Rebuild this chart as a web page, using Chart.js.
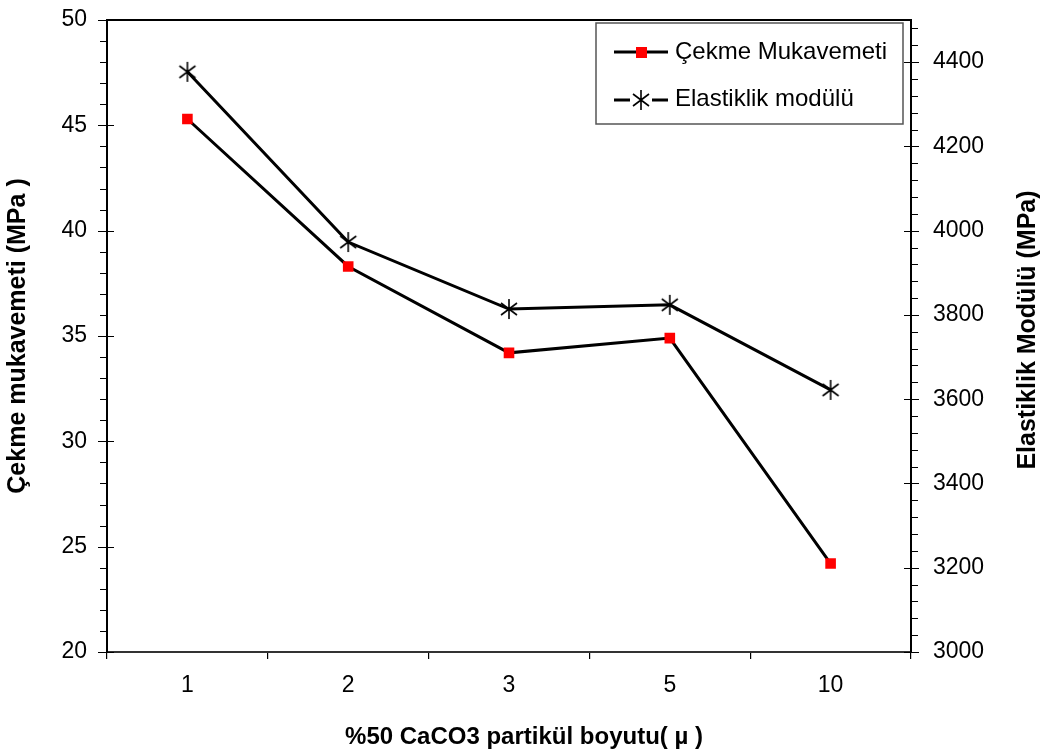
<!DOCTYPE html>
<html>
<head>
<meta charset="utf-8">
<script src="https://cdn.jsdelivr.net/npm/chart.js@4/dist/chart.umd.min.js"></script>
<style>
  body { margin: 0; background: #fff; }
  #wrap { width: 1042px; height: 749px; }
</style>
</head>
<body>
<div id="wrap"><canvas id="grafik"></canvas></div>
<script>
var boyut = ["1", "2", "3", "5", "10"];
var cekmeMukavemeti = [45.3, 38.3, 34.2, 34.9, 24.2];
var elastiklikModulu = [4377, 3973, 3814, 3824, 3622];

var fontAdi = "'Liberation Sans', Arial, Helvetica, sans-serif";

// yildiz isareti (dikey cizgi + X)
var yildiz = document.createElement('canvas');
yildiz.width = 22;
yildiz.height = 22;
var yc = yildiz.getContext('2d');
yc.strokeStyle = '#000';
yc.lineWidth = 1.6;
yc.beginPath();
yc.moveTo(11, 1); yc.lineTo(11, 21);
yc.moveTo(3, 5); yc.lineTo(19, 17);
yc.moveTo(19, 5); yc.lineTo(3, 17);
yc.stroke();

var cercevePlugin = {
  id: 'cerceve',
  afterDatasetsDraw: function (chart) {
    var ctx = chart.ctx;
    var a = chart.chartArea;
    var y1 = chart.scales.y;
    var y2 = chart.scales.y2;
    ctx.save();
    ctx.strokeStyle = '#000';
    ctx.lineWidth = 2;
    ctx.beginPath();
    ctx.moveTo(a.left, a.top);
    ctx.lineTo(a.right, a.top);
    ctx.stroke();

    // sol eksen tikleri
    ctx.lineWidth = 1.2;
    ctx.beginPath();
    for (var v = 20; v <= 50; v += 1) {
      var py = Math.round(y1.getPixelForValue(v)) + 0.5;
      if (v % 5 === 0) {
        ctx.moveTo(a.left - 9, py); ctx.lineTo(a.left + 7, py);
      } else {
        ctx.moveTo(a.left - 7, py); ctx.lineTo(a.left, py);
      }
    }
    // sag eksen tikleri
    for (var w = 3000; w <= 4500; w += 40) {
      var qy = Math.round(y2.getPixelForValue(w)) + 0.5;
      if (w % 200 === 0) {
        ctx.moveTo(a.right - 7, qy); ctx.lineTo(a.right + 8, qy);
      } else {
        ctx.moveTo(a.right, qy); ctx.lineTo(a.right + 7, qy);
      }
    }
    ctx.stroke();

    // eksen basliklari
    ctx.fillStyle = '#000';
    ctx.font = 'bold 24px ' + fontAdi;
    ctx.textAlign = 'center';
    ctx.textBaseline = 'middle';
    ctx.fillText('%50 CaCO3 partikül boyutu( µ )', 524, 737);
    ctx.font = 'bold 25px ' + fontAdi;
    ctx.save();
    ctx.translate(1028, 330);
    ctx.rotate(-Math.PI / 2);
    ctx.fillText('Elastiklik Modülü (MPa)', 0, 0);
    ctx.restore();

    // lejant
    var lx = 596, ly = 23, lw = 307, lh = 101;
    ctx.fillStyle = '#fff';
    ctx.fillRect(lx, ly, lw, lh);
    ctx.strokeStyle = '#555';
    ctx.lineWidth = 1.5;
    ctx.strokeRect(lx, ly, lw, lh);

    ctx.strokeStyle = '#000';
    ctx.lineWidth = 3;
    ctx.beginPath();
    ctx.moveTo(614, 52); ctx.lineTo(668, 52);
    ctx.moveTo(614, 100); ctx.lineTo(630, 100);
    ctx.moveTo(652, 100); ctx.lineTo(668, 100);
    ctx.stroke();
    ctx.fillStyle = '#ff0000';
    ctx.fillRect(636, 47, 11, 11);
    ctx.drawImage(yildiz, 630, 89);

    ctx.fillStyle = '#000';
    ctx.font = '24px ' + fontAdi;
    ctx.textBaseline = 'middle';
    ctx.textAlign = 'left';
    ctx.fillText('Çekme Mukavemeti', 675, 52);
    ctx.fillText('Elastiklik modülü', 675, 99);
    ctx.restore();
  }
};

function sifirPadding(s) {
  s.paddingTop = 0;
  s.paddingBottom = 0;
}

var ctx = document.getElementById('grafik').getContext('2d');
var grafik = new Chart(ctx, {
  type: 'line',
  data: {
    labels: boyut,
    datasets: [{
      label: 'Çekme Mukavemeti',
      data: cekmeMukavemeti,
      yAxisID: 'y',
      borderColor: '#000',
      borderWidth: 3,
      pointStyle: 'rect',
      pointRadius: 7.5,
      pointBackgroundColor: '#ff0000',
      pointBorderWidth: 0,
      tension: 0
    }, {
      label: 'Elastiklik modülü',
      data: elastiklikModulu,
      yAxisID: 'y2',
      borderColor: '#000',
      borderWidth: 3,
      pointStyle: yildiz,
      pointRadius: 10,
      tension: 0
    }]
  },
  options: {
    responsive: true,
    maintainAspectRatio: false,
    animation: false,
    layout: { padding: { top: 20, left: 0, right: 0, bottom: 0 } },
    plugins: {
      legend: { display: false },
      tooltip: { enabled: false }
    },
    scales: {
      x: {
        offset: true,
        grid: { offset: true, drawOnChartArea: false, drawTicks: true, tickLength: 7, color: '#000', lineWidth: 1.2 },
        border: { display: true, color: '#333', width: 2 },
        ticks: { color: '#000', padding: 13, font: { family: fontAdi, size: 23 } },
        afterFit: function (s) { s.height = 97; s.paddingLeft = 0; s.paddingRight = 0; }
      },
      y: {
        position: 'left',
        min: 20,
        max: 50,
        ticks: { stepSize: 5, color: '#000', padding: 20, font: { family: fontAdi, size: 23 } },
        grid: { drawOnChartArea: false, drawTicks: false },
        border: { display: true, color: '#000', width: 2 },
        title: {
          display: true,
          text: 'Çekme mukavemeti (MPa )',
          color: '#000',
          padding: { top: 6, bottom: 0 },
          font: { family: fontAdi, size: 25, weight: 'bold', lineHeight: 1 }
        },
        afterFit: function (s) { s.width = 107; sifirPadding(s); }
      },
      y2: {
        position: 'right',
        min: 3000,
        max: 4500,
        ticks: {
          stepSize: 200, includeBounds: false, color: '#000', padding: 22,
          font: { family: fontAdi, size: 23 },
          callback: function (value) { return String(value); }
        },
        grid: { drawOnChartArea: false, drawTicks: false },
        border: { display: true, color: '#000', width: 2 },
        afterFit: function (s) { s.width = 131; sifirPadding(s); }
      }
    }
  },
  plugins: [cercevePlugin]
});
</script>
</body>
</html>
